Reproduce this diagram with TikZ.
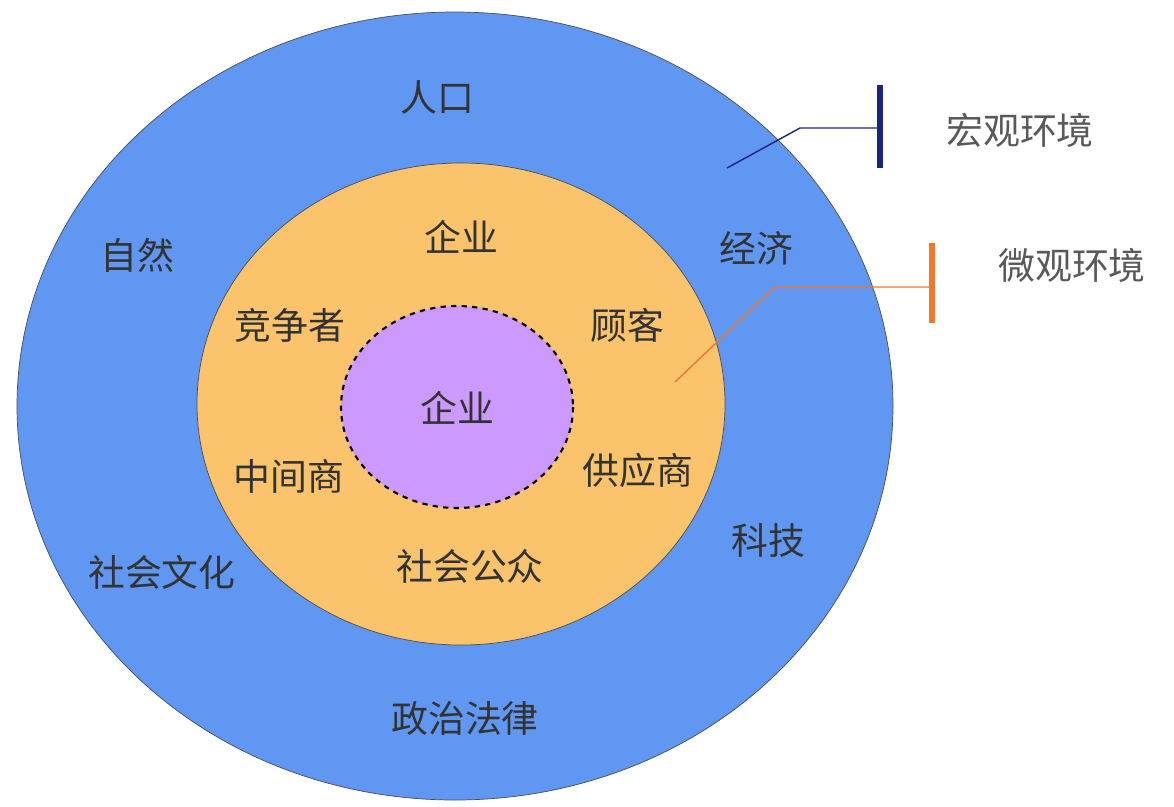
\documentclass[tikz,border=0pt]{standalone}
\usepackage{fontspec}
\setmainfont{Noto Sans CJK SC}
\definecolor{macro}{HTML}{5F97F2}
\definecolor{micro}{HTML}{FBC46C}
\definecolor{core}{HTML}{CC99FF}
\definecolor{navyline}{HTML}{1A237E}
\definecolor{orangeline}{HTML}{F0782A}
\tikzset{lbl/.style={font=\fontsize{21}{24}\selectfont, text=black!80}}
\begin{document}
\begin{tikzpicture}[x=0.02cm,y=-0.02cm]
        \useasboundingbox (0,0) rectangle (1174,806);
        % Rings
        \draw[black!70, fill=macro] (455,406) ellipse [x radius=438, y radius=394];
        \draw[black!70, fill=micro] (461,404) ellipse [x radius=264, y radius=241];
        \draw[black, very thick, dashed, fill=core] (457,407) ellipse [x radius=116, y radius=101];

        % Macro labels
        \node[lbl] (pop) at (437,97) {人口};
        \node[lbl] (nat) at (137,255) {自然};
        \node[lbl] (eco) at (756,248) {经济};
        \node[lbl] (soc) at (162,572) {社会文化};
        \node[lbl] (tec) at (768,540) {科技};
        \node[lbl] (pol) at (465,718) {政治法律};

        % Micro labels
        \node[lbl] (firm) at (461,237) {企业};
        \node[lbl] (comp) at (290,325) {竞争者};
        \node[lbl] (cust) at (627,325) {顾客};
        \node[lbl] (inter) at (289,476) {中间商};
        \node[lbl] (supp) at (638,470) {供应商};
        \node[lbl] (pub) at (470,566) {社会公众};
        \node[lbl] (core) at (457,408) {企业};

        % Legend
        \coordinate (m0) at (727,168);
        \coordinate (m1) at (800,128);
        \coordinate (m2) at (880,128);
        \draw[navyline, thick] (m0) -- (m1) -- (m2);
        \draw[navyline, line width=3pt] (880,85) -- (880,168);
        \node[lbl, text=black!65] (macrotxt) at (1020,130) {宏观环境};

        \coordinate (n0) at (675,382);
        \coordinate (n1) at (775,287);
        \coordinate (n2) at (932,287);
        \draw[orangeline, thick] (n0) -- (n1) -- (n2);
        \draw[orangeline, line width=3pt] (932,243) -- (932,323);
        \node[lbl, text=black!65] (microtxt) at (1072,265) {微观环境};
\end{tikzpicture}
\end{document}
